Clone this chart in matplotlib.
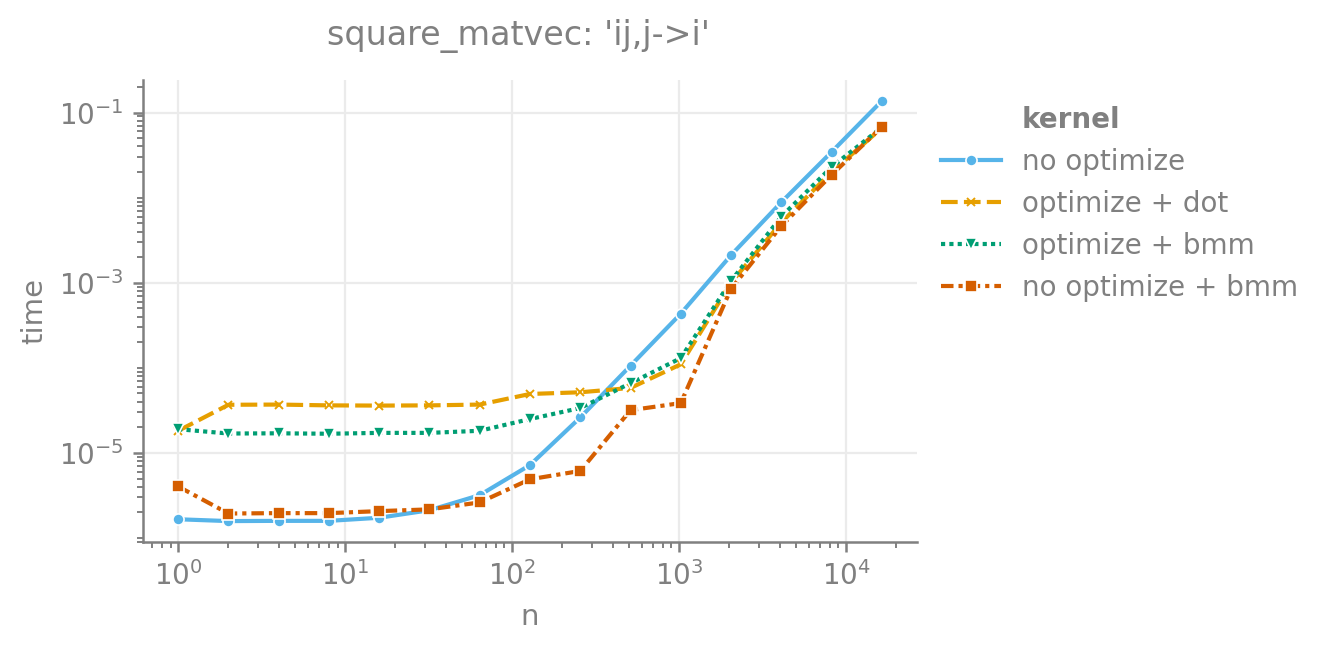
import matplotlib
matplotlib.use("Agg")
import matplotlib.pyplot as plt
from matplotlib.ticker import LogLocator, FixedLocator, NullFormatter
from matplotlib.lines import Line2D
import numpy as np

n = [1, 2, 4, 8, 16, 32, 64, 128, 256, 512, 1024, 2048, 4096, 8192, 16384]
no_optimize = [1.66e-6, 1.58e-6, 1.59e-6, 1.59e-6, 1.73e-6, 2.12e-6, 3.19e-6, 7.2e-6,
               2.61e-5, 1.06e-4, 4.33e-4, 2.11e-3, 8.83e-3, 3.44e-2, 1.37e-1]
optimize_dot = [1.82e-5, 3.68e-5, 3.70e-5, 3.62e-5, 3.60e-5, 3.62e-5, 3.70e-5, 4.93e-5,
                5.16e-5, 5.8e-5, 1.10e-4, 1.0e-3, 5.1e-3, 2.0e-2, 6.6e-2]
optimize_bmm = [1.90e-5, 1.69e-5, 1.70e-5, 1.68e-5, 1.72e-5, 1.72e-5, 1.82e-5, 2.50e-5,
                3.37e-5, 6.6e-5, 1.30e-4, 1.05e-3, 5.98e-3, 2.29e-2, 6.7e-2]
no_optimize_bmm = [4.03e-6, 1.94e-6, 1.96e-6, 1.96e-6, 2.07e-6, 2.17e-6, 2.62e-6, 4.9e-6,
                   6.14e-6, 3.18e-5, 3.85e-5, 8.5e-4, 4.64e-3, 1.85e-2, 6.78e-2]
y_ticks = [1e-5, 1e-3, 1e-1]

labels = ["no optimize", "optimize + dot", "optimize + bmm", "no optimize + bmm"]
series = [no_optimize, optimize_dot, optimize_bmm, no_optimize_bmm]
colors = ["#56B4E9", "#E69F00", "#009E73", "#D55E00"]
markers = ["o", "x", "v", "s"]
styles = ["-", (0, (4, 1.5)), (0, (1, 1)), (0, (3, 1.2, 1, 1.2))]

gray = "#808080"
plt.rcParams.update({
    "font.family": ["DejaVu Sans"],
    "text.color": gray,
    "axes.labelcolor": gray,
    "xtick.color": gray,
    "ytick.color": gray,
    "axes.edgecolor": gray,
})

fig = plt.figure(figsize=(6.64, 3.25), dpi=200)
ax = fig.add_axes([0.1077, 0.166, 0.5828, 0.711])

handles = []
for lab, ys, c, m, ls in zip(labels, series, colors, markers, styles):
    if m == "x":
        kw = dict(markersize=3.2, markeredgecolor=c, markeredgewidth=0.7)
    else:
        kw = dict(markersize=4, markeredgecolor="white", markeredgewidth=0.6)
    h, = ax.plot(n, ys, color=c, marker=m, linestyle=ls, linewidth=1.5, label=lab, **kw)
    handles.append(h)

ax.set_xscale("log")
ax.set_yscale("log")
ax.yaxis.set_major_locator(FixedLocator(y_ticks))
ax.yaxis.set_minor_locator(LogLocator(base=10, subs=np.arange(1, 10), numticks=30))
ax.yaxis.set_minor_formatter(NullFormatter())
ax.grid(True, which="major", color="#ebebeb", linewidth=0.8)
ax.set_axisbelow(True)
for s in ["top", "right"]:
    ax.spines[s].set_visible(False)
ax.spines["left"].set_linewidth(0.9)
ax.spines["bottom"].set_linewidth(0.9)
ax.tick_params(which="major", length=3.5, width=0.9, labelsize=10)
ax.tick_params(which="minor", length=2.2, width=0.7)
ax.set_xlabel("n", fontsize=10.5)
ax.set_ylabel("time", fontsize=10.5)
ax.set_title("square_matvec: 'ij,j->i'", fontsize=12, color=gray, pad=12.5, x=0.4845)

title_handle = Line2D([], [], linestyle="none", marker=None)
leg = fig.legend([title_handle] + handles, ["kernel"] + labels,
                 loc="upper left", bbox_to_anchor=(0.7086, 0.837), frameon=False,
                 fontsize=10, handlelength=2.15, handletextpad=0.75,
                 labelspacing=0.5, borderpad=0, borderaxespad=0)
texts = leg.get_texts()
texts[0].set_fontweight("bold")
for t in texts:
    t.set_color(gray)

fig.savefig("out.png", dpi=200)
